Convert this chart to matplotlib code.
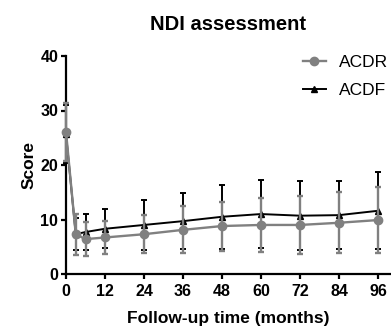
import matplotlib
matplotlib.use('Agg')
import matplotlib.pyplot as plt
from matplotlib.lines import Line2D
import numpy as np

# follow-up months and NDI scores (mean +/- SD)
months = [0, 3, 6, 12, 24, 36, 48, 60, 72, 84, 96]
acdr_mean = [26.1, 7.3, 6.4, 6.7, 7.3, 8.1, 8.8, 9.0, 9.0, 9.4, 9.9]
acdr_sd = [5.3, 3.8, 3.1, 3.0, 3.5, 4.3, 4.5, 4.9, 5.4, 5.6, 6.1]
acdf_mean = [25.7, 7.3, 7.7, 8.3, 9.0, 9.7, 10.5, 11.0, 10.7, 10.8, 11.6]
acdf_sd = [5.3, 2.9, 3.3, 3.6, 4.6, 5.2, 5.85, 6.2, 6.35, 6.3, 7.05]
xticks = [0, 12, 24, 36, 48, 60, 72, 84, 96]
yticks = [0, 10, 20, 30, 40]

plt.rcParams['font.family'] = ['Liberation Sans', 'DejaVu Sans']

fig = plt.figure(figsize=(3.91, 3.26), dpi=100)
ax = fig.add_axes([66/391, 1-274/326, 1-66/391, (274-56)/326])

ax.errorbar(months, acdf_mean, yerr=acdf_sd, color='black', lw=1.4,
            marker='^', ms=4.5, elinewidth=1.4, capsize=2.5, capthick=1.4,
            zorder=3, clip_on=False)
ax.errorbar(months, acdr_mean, yerr=acdr_sd, color='#808080', lw=1.7,
            marker='o', ms=6, elinewidth=1.7, capsize=2.5, capthick=1.7,
            zorder=4, clip_on=False)

ax.set_xlim(0, 100)
ax.set_ylim(0, 40)
ax.set_xticks(xticks)
ax.set_yticks(yticks)
ax.spines['top'].set_visible(False)
ax.spines['right'].set_visible(False)
ax.spines['left'].set_linewidth(1.6)
ax.spines['bottom'].set_linewidth(1.6)
ax.tick_params(width=1.6, length=3.5, labelsize=11.5)
ax.tick_params(axis='x', pad=4)
ax.tick_params(axis='y', pad=2)
for lab in ax.get_xticklabels() + ax.get_yticklabels():
    lab.set_fontweight('bold')

ax.set_xlabel('Follow-up time (months)', fontsize=12.5, fontweight='bold', labelpad=8)
ax.set_ylabel('Score', fontsize=12.5, fontweight='bold', labelpad=3)
ax.set_title('NDI assessment', fontsize=14.5, fontweight='bold', pad=19)

handles = [Line2D([], [], color='#808080', lw=1.7, marker='o', ms=6),
           Line2D([], [], color='black', lw=1.4, marker='^', ms=4.5)]
fig.legend(handles, ['ACDR', 'ACDF'], loc='upper left',
           bbox_to_anchor=(303/391, 1-55/326), frameon=False, fontsize=12.5,
           handlelength=1.3, handletextpad=0.8, labelspacing=0.75,
           borderpad=0, borderaxespad=0)

fig.savefig('out.png', dpi=100)
